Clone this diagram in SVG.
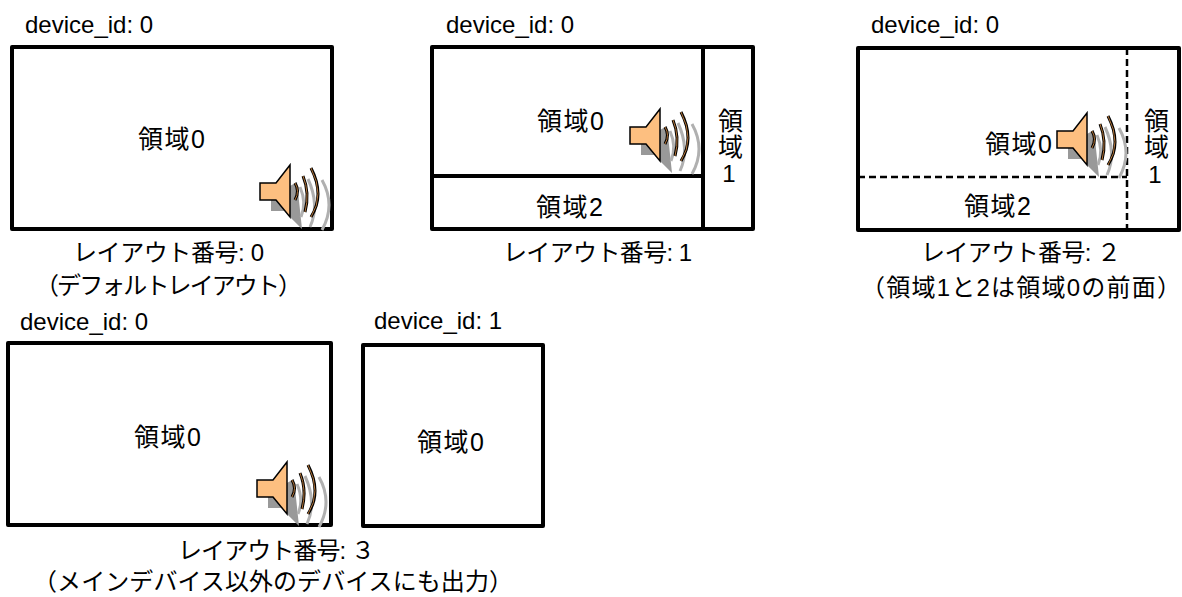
<svg xmlns="http://www.w3.org/2000/svg" width="1182" height="597" viewBox="0 0 1182 597">
<style>
text{font-family:"Liberation Sans","Noto Sans CJK JP",sans-serif;font-size:24px;fill:#000}
.m{text-anchor:middle}
.r{font-size:25px}
.b{fill:#fff;stroke:#000;stroke-width:4;stroke-linejoin:round}
.s{fill:none;stroke:#000;stroke-width:4}
.d{fill:none;stroke:#000;stroke-width:2.5;stroke-dasharray:7 4}
.c{fill:#fdbf80;stroke:#000;stroke-width:1.5}
.a{fill:none;stroke:#000;stroke-width:3}
.a2{fill:none;stroke:#b5763a;stroke-width:1}
.sh{fill:#999}
.as{fill:none;stroke:#b0b0b0;stroke-width:3}
</style>
<defs>
<g id="spk">
<path class="sh" d="M11,35H30V21L37,17L42,64L30,52L25,46H11Z"/>
<path class="as" d="M40,22Q47,38 41,52M48,14Q60,40 50,62"/>
<path class="as" d="M62,15Q76,40 62,65"/>
<path class="c" d="M0,18H16L30,0V52L16,35H0Z"/>
<path class="a" d="M35,18Q40,26 35,35M43,11Q50,28 45,47M51,3Q65,30 51,52"/>
<path class="a2" d="M35,18Q40,26 35,35M43,11Q50,28 45,47M51,3Q65,30 51,52"/>
</g>
</defs>
<g id="layout0">
<text x="25" y="33">device_id: 0</text>
<rect class="b" x="12" y="47" width="320" height="182"/>
<text class="r" x="138" y="148" textLength="67">領域0</text>
<use href="#spk" x="260" y="165"/>
<text x="73" y="261" textLength="191">レイアウト番号: 0</text>
<text x="35" y="294" textLength="267">（デフォルトレイアウト）</text>
</g>
<g id="layout1">
<text x="446" y="33">device_id: 0</text>
<rect class="b" x="432" y="47" width="321" height="182"/>
<path class="s" d="M703,47V229M432,176H703"/>
<text class="r" x="537" y="130" textLength="67">領域0</text>
<use href="#spk" x="630" y="109"/>
<text class="r" x="718" y="130">領</text>
<text class="r" x="718" y="156">域</text>
<text class="m" x="729" y="182">1</text>
<text class="r" x="536" y="216" textLength="67">領域2</text>
<text x="503" y="261" textLength="189">レイアウト番号: 1</text>
</g>
<g id="layout2">
<text x="871" y="33">device_id: 0</text>
<rect class="b" x="858" y="48" width="321" height="182"/>
<path class="d" d="M1127,48V230M858,177H1127"/>
<text class="r" x="985" y="153" textLength="67">領域0</text>
<use href="#spk" x="1057" y="113"/>
<text class="r" x="1144" y="130">領</text>
<text class="r" x="1144" y="156">域</text>
<text class="m" x="1155" y="183">1</text>
<text class="r" x="964" y="215" textLength="67">領域2</text>
<text x="921" y="261" textLength="200">レイアウト番号: ２</text>
<text x="861" y="296" textLength="320">（領域1と2は領域0の前面）</text>
</g>
<g id="layout3">
<text x="20" y="330">device_id: 0</text>
<rect class="b" x="8" y="343" width="323" height="182"/>
<text class="r" x="134" y="446" textLength="67">領域0</text>
<use href="#spk" x="257" y="462"/>
<text x="374" y="329">device_id: 1</text>
<rect class="b" x="363" y="345" width="180" height="181"/>
<text class="r" x="417" y="451" textLength="67">領域0</text>
<text x="178" y="559" textLength="197">レイアウト番号: ３</text>
<text x="33" y="590" textLength="480">（メインデバイス以外のデバイスにも出力）</text>
</g>
</svg>
